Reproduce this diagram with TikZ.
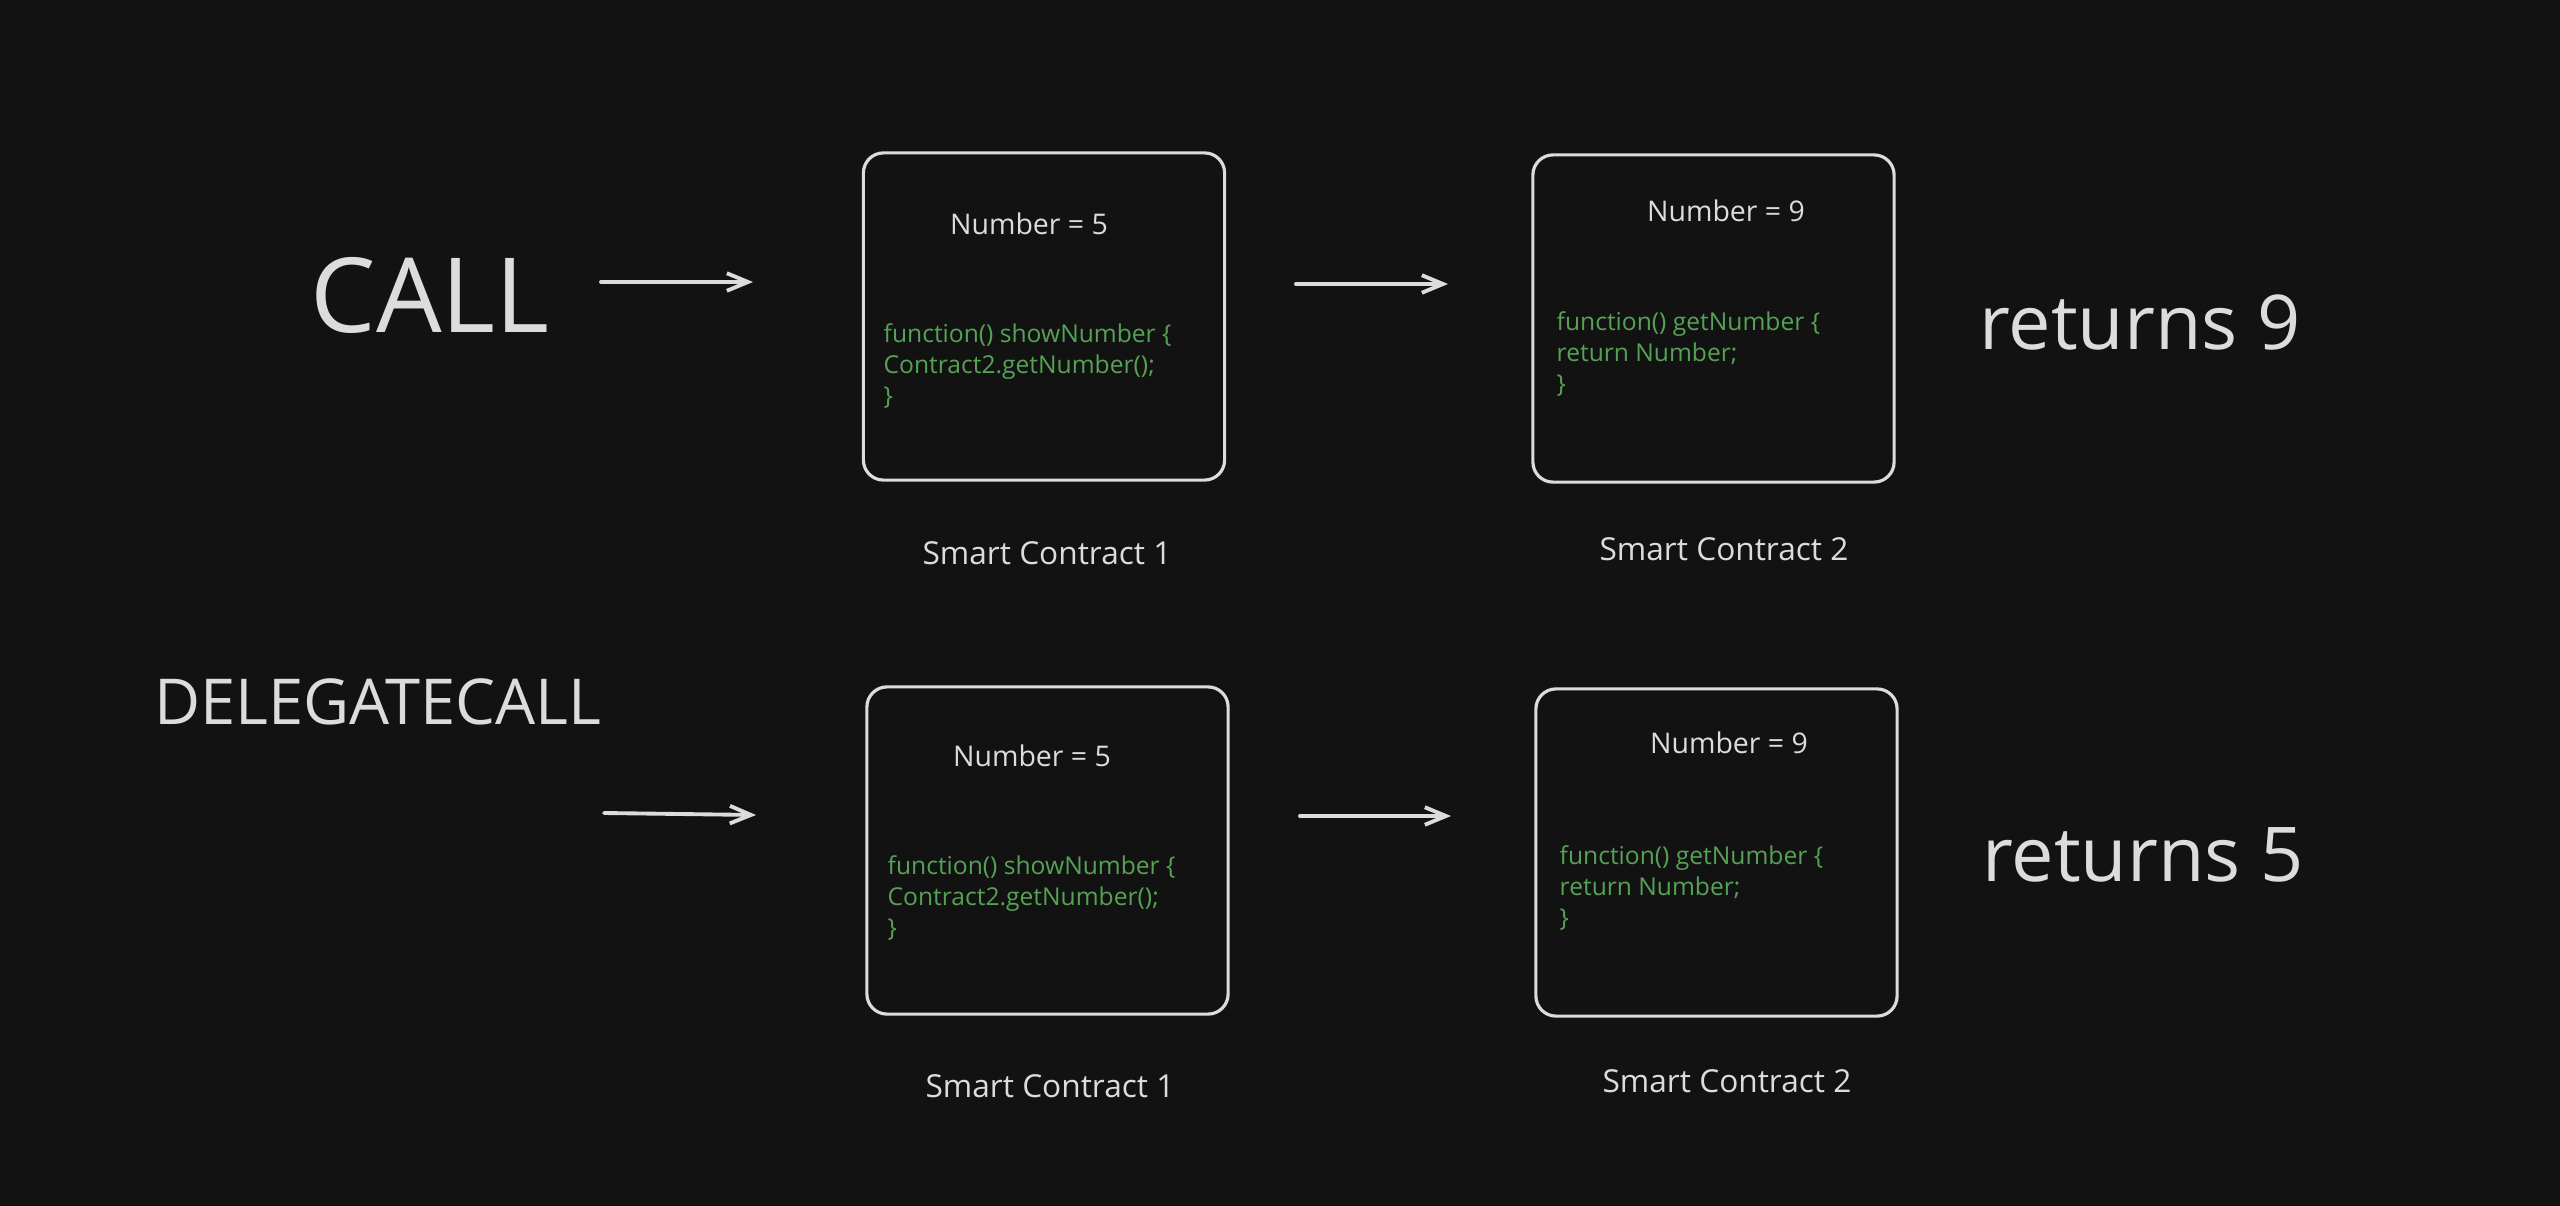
\documentclass[tikz,border=0pt]{standalone}
\usepackage{fontspec}
\setmainfont{Open Sans}
\usetikzlibrary{arrows.meta,positioning}
\definecolor{Ink}{HTML}{121212}
\definecolor{Chalk}{HTML}{DCDCDC}
\definecolor{CodeGreen}{HTML}{55A255}

\begin{document}
\begin{tikzpicture}[x=0.01cm,y=-0.01cm,
    contract/.style={draw=Chalk,line width=0.9pt,rounded corners=5.7pt,
      minimum width=3.61cm,minimum height=3.27cm,inner sep=0pt},
    state/.style={text=Chalk,font=\fontsize{8.1}{9}\selectfont},
    code/.style={text=CodeGreen,align=left,anchor=west,inner sep=0pt,
      font=\fontsize{7}{8.8}\selectfont},
    caption/.style={text=Chalk,font=\fontsize{9}{11}\selectfont},
    flow/.style={draw=Chalk,line width=1.1pt,line cap=round,
      -{Straight Barb[length=6pt,width=5pt,line width=1.1pt]}}
  ]
    \fill[Ink] (0,0) rectangle (2560,1206);
    % CALL row
    \node[text=Chalk,font=\fontsize{29.5}{33}\selectfont] (call) at (430,295) {CALL};
    \node[contract] (c1) at (1044,316.5) {};
    \node[contract] (c2) at (1713.5,318.5) {};
    \node[state] (c1n) at (1029,224) {Number = 5};
    \node[code] (c1f) at (883,366) {function() showNumber \{\\Contract2.getNumber();\\\}};
    \node[state] (c2n) at (1726,211) {Number = 9};
    \node[code] (c2f) at (1556,354) {function() getNumber \{\\return Number;\\\}};
    \node[caption] (c1l) at (1047,553) {Smart Contract 1};
    \node[caption] (c2l) at (1724,549) {Smart Contract 2};
    \node[text=Chalk,font=\fontsize{21.5}{24}\selectfont] (r9) at (2140,322) {returns 9};
    \coordinate (a1s) at (601,282);
    \coordinate (a1e) at (753,282);
    \coordinate (a2s) at (1296,284);
    \coordinate (a2e) at (1448,284);
    \draw[flow] (a1s) -- (a1e);
    \draw[flow] (a2s) -- (a2e);
    % DELEGATECALL row
    \node[text=Chalk,font=\fontsize{18}{20}\selectfont] (dcall) at (378,702) {DELEGATECALL};
    \node[contract] (d1) at (1047.5,850.5) {};
    \node[contract] (d2) at (1716.5,852.5) {};
    \node[state] (d1n) at (1032,756) {Number = 5};
    \node[code] (d1f) at (887,898) {function() showNumber \{\\Contract2.getNumber();\\\}};
    \node[state] (d2n) at (1729,743) {Number = 9};
    \node[code] (d2f) at (1559,888) {function() getNumber \{\\return Number;\\\}};
    \node[caption] (d1l) at (1050,1086) {Smart Contract 1};
    \node[caption] (d2l) at (1727,1081) {Smart Contract 2};
    \node[text=Chalk,font=\fontsize{21.5}{24}\selectfont] (r5) at (2143,855) {returns 5};
    \coordinate (b1s) at (604,813);
    \coordinate (b1e) at (756,815);
    \coordinate (b2s) at (1300,816);
    \coordinate (b2e) at (1451,816);
    \draw[flow] (b1s) -- (b1e);
    \draw[flow] (b2s) -- (b2e);
  \end{tikzpicture}
\end{document}
